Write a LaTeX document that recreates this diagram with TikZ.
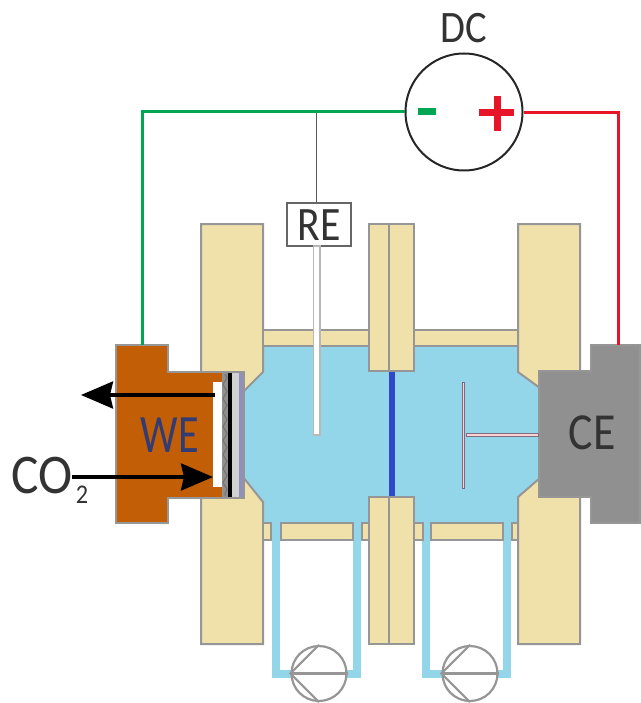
\documentclass[tikz,border=0pt]{standalone}
\usepackage{fontspec}
\setmainfont{Carlito}
\usetikzlibrary{arrows.meta, positioning, decorations.pathmorphing}
\definecolor{cellyellow}{RGB}{240,224,170}
\definecolor{cellblue}{RGB}{148,214,233}
\definecolor{cellorange}{RGB}{194,94,6}
\definecolor{cellgray}{RGB}{144,144,144}
\definecolor{edgegray}{RGB}{150,150,150}
\definecolor{wiregreen}{RGB}{0,166,81}
\definecolor{wirered}{RGB}{232,20,40}
\definecolor{membrane}{RGB}{48,72,200}
\definecolor{welabel}{RGB}{50,60,115}

\begin{document}
\begin{tikzpicture}[
  x=1pt, y=-1pt,
  wall/.style={draw=edgegray, fill=cellyellow, line width=2pt},
  metal/.style={draw=edgegray, line width=2pt},
  tube/.style={draw=cellblue, line width=8pt},
  pump/.style={circle, draw=edgegray, fill=white, line width=2.2pt, minimum size=55pt, inner sep=0pt},
  pumpline/.style={draw=edgegray, line width=2.2pt},
  flow/.style={-{Stealth[length=32pt, width=27pt, inset=3pt]}, line width=3.4pt, color=black},
  lab/.style={inner sep=0pt, color=black!80}
]
  \useasboundingbox (0,0) rectangle (640,703);

  % solution and tubes
  \fill[cellblue] (245,346) rectangle (540,524);
  \draw[tube] (275.5,523) -- (275.5,673.5) -- (357,673.5) -- (357,523);
  \draw[tube] (426,523) -- (426,673.5) -- (507,673.5) -- (507,523);

  % cell walls
  \draw[wall] (201,224) -- (263,224) -- (263,372) -- (243,392) -- (243,477) -- (263,502) -- (263,644) -- (201,644) -- cycle;
  \draw[wall] (518,224) -- (580,224) -- (580,644) -- (518,644) -- (518,497) -- (540,478) -- (540,388) -- (518,372) -- cycle;
  \draw[wall] (263,330) rectangle (369,346);
  \draw[wall] (414,330) rectangle (518,346);
  \draw[wall] (263,523) rectangle (271,540);
  \draw[wall] (281,523) rectangle (353,540);
  \draw[wall] (362,523) rectangle (369,540);
  \draw[wall] (414,523) rectangle (423,540);
  \draw[wall] (431,523) rectangle (503,540);
  \draw[wall] (512,523) rectangle (518,540);
  \draw[wall] (369,224) rectangle (389,371);
  \draw[wall] (389,224) rectangle (414,371);
  \draw[wall] (369,497) rectangle (389,644);
  \draw[wall] (389,497) rectangle (414,644);
  \fill[membrane] (388.5,372) rectangle (395,496);

  % working electrode
  \draw[metal, fill=cellorange] (116,345) -- (168,345) -- (168,372) -- (244,372) -- (244,498) -- (168,498) -- (168,523) -- (116,523) -- cycle;
  \fill[white] (213,382) rectangle (222,487);
  \fill[cellgray] (222,373) rectangle (228,497);
  \draw[black!55, line width=1pt, decorate, decoration={zigzag, segment length=14pt, amplitude=2pt}] (225,374) -- (225,496);
  \fill[black] (228,373) rectangle (232,497);
  \fill[black!18] (232,373) rectangle (239,497);
  \fill[blue!25!gray!70] (239,373) rectangle (243,497);

  % counter electrode
  \draw[metal, fill=cellgray] (539,371) -- (591,371) -- (591,345) -- (640,345) -- (640,523) -- (591,523) -- (591,497) -- (539,497) -- cycle;
  \draw[draw=gray!85!violet, fill=pink!70, line width=0.8pt] (466,433.5) rectangle (538,436.5);
  \draw[draw=gray!80!violet, fill=pink!70, line width=0.8pt] (462,382) rectangle (464,488);

  % reference electrode
  \node[draw=black!60, fill=white, line width=1.4pt, minimum width=64pt, minimum height=43pt, inner sep=0pt] (re) at (319,224.5) {};
  \node[lab, font=\fontsize{48}{48}\selectfont, xscale=0.87] (relab) at (319,225) {RE};
  \draw[draw=black!28, fill=white, line width=1.2pt] (313.5,246) rectangle (320,435);

  % source
  \node[circle, draw=black!85, fill=white, line width=2pt, minimum size=117pt, inner sep=0pt] (dc) at (464,112) {};
  \node[lab, font=\fontsize{45}{45}\selectfont, xscale=0.9] (dclab) at (463.5,28) {DC};
  \draw[wiregreen, line width=7pt] (418,112) -- (436,112);
  \draw[wirered, line width=7pt] (479,113) -- (514,113);
  \draw[wirered, line width=7pt] (497,96) -- (497,131);

  % wires
  \coordinate (wecorner) at (142,112);
  \coordinate (wetop)    at (142,345);
  \coordinate (cecorner) at (618,113);
  \coordinate (cetop)    at (618,345);
  \coordinate (rejoin)   at (316.5,112);
  \draw[black!65, line width=1.8pt] (rejoin) -- (rejoin |- re.north);
  \draw[wiregreen, line width=3pt] (dc.west) -- (wecorner) -- (wetop);
  \draw[wirered, line width=3pt] (dc.east |- cecorner) -- (cecorner) -- (cetop);

  % pumps
  \node[pump] (pumpa) at (319,673.5) {};
  \node[pump] (pumpb) at (470,673.5) {};
  \draw[pumpline] (pumpa.west) -- (pumpa.east);
  \draw[pumpline] (pumpa.north) -- (pumpa.west) -- (pumpa.south);
  \draw[pumpline] (pumpb.west) -- (pumpb.east);
  \draw[pumpline] (pumpb.north) -- (pumpb.west) -- (pumpb.south);

  % labels and gas flow
  \node[lab, color=welabel, font=\fontsize{54}{54}\selectfont, xscale=0.78] (we) at (170,435) {WE};
  \node[lab, font=\fontsize{52}{52}\selectfont, xscale=0.88] (ce) at (592,433) {CE};
  \node[lab, font=\fontsize{56}{56}\selectfont, xscale=0.92, anchor=west] (co) at (11,476) {CO};
  \node[lab, font=\fontsize{27}{27}\selectfont, xscale=0.9] (cosub) at (82,495) {2};
  \coordinate (flowin) at (213,477);
  \coordinate (flowout) at (81,395);
  \draw[flow] (co.east |- flowin) -- (flowin);
  \draw[flow] (215,395) -- (flowout);
\end{tikzpicture}
\end{document}
